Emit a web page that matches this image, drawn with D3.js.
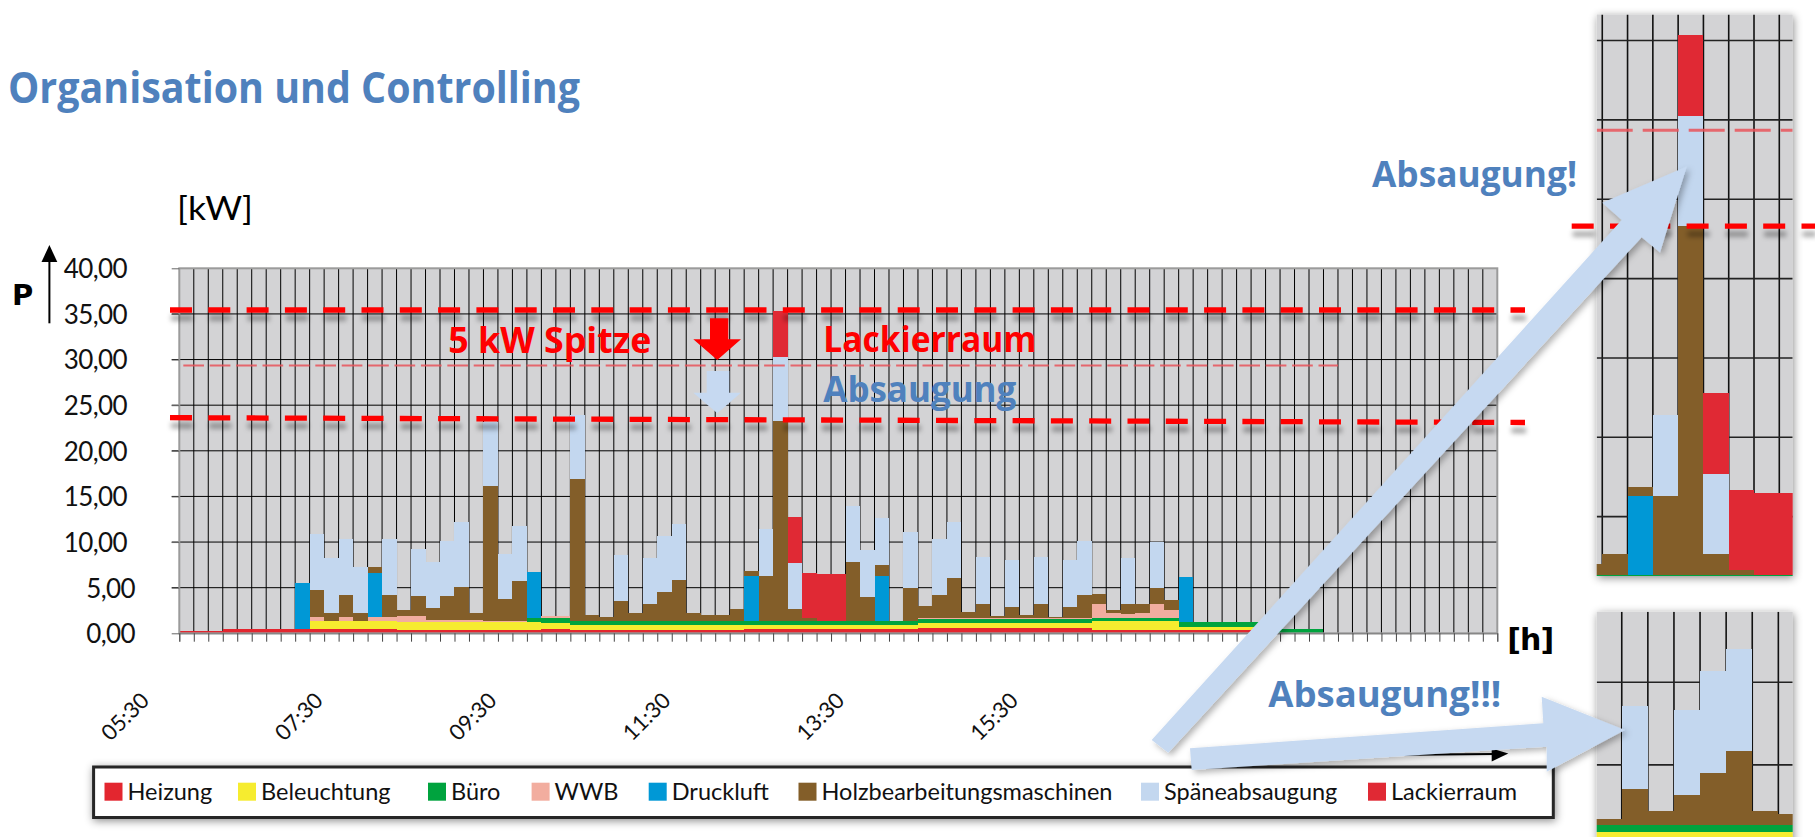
<!DOCTYPE html>
<html>
<head>
<meta charset="utf-8">
<script src="https://cdn.jsdelivr.net/npm/d3@7"></script>
<style>
    body { margin: 0; background: #fff; }
    svg { display: block; }
</style>
</head>
<body>
<div id="chart"></div>
<script>

// 10-minute slots, 05:30 .. 20:30
const slots = [
    "05:30","05:40","05:50",
    "06:00","06:10","06:20","06:30","06:40","06:50",
    "07:00","07:10","07:20","07:30","07:40","07:50",
    "08:00","08:10","08:20","08:30","08:40","08:50",
    "09:00","09:10","09:20","09:30","09:40","09:50",
    "10:00","10:10","10:20","10:30","10:40","10:50",
    "11:00","11:10","11:20","11:30","11:40","11:50",
    "12:00","12:10","12:20","12:30","12:40","12:50",
    "13:00","13:10","13:20","13:30","13:40","13:50",
    "14:00","14:10","14:20","14:30","14:40","14:50",
    "15:00","15:10","15:20","15:30","15:40","15:50",
    "16:00","16:10","16:20","16:30","16:40","16:50",
    "17:00","17:10","17:20","17:30","17:40","17:50",
    "18:00","18:10","18:20","18:30","18:40","18:50",
    "19:00","19:10","19:20","19:30","19:40","19:50",
    "20:00","20:10","20:20","20:30"
];

// kW per slot, one array per consumer
const heizung = [
    0.3,0.3,0.3,0.5,0.5,0.5,0.5,0.5,0.45,0.45,
    0.45,0.45,0.45,0.45,0.45,0.4,0.4,0.4,0.4,0.4,
    0.4,0.4,0.4,0.4,0.4,0.44,0.44,0.37,0.37,0.37,
    0.37,0.37,0.37,0.37,0.37,0.37,0.37,0.37,0.37,0.5,
    0.5,0.5,0.5,0.5,0.5,0.5,0.5,0.5,0.5,0.5,
    0.5,0.55,0.55,0.55,0.55,0.55,0.55,0.55,0.55,0.55,
    0.55,0.55,0.55,0.4,0.4,0.4,0.4,0.4,0.4,0.35,
    0.35,0.35,0.35,0.35,0.35,0,0,0,0,0,
    0,0,0,0,0,0,0,0,0,0,
    0
];
const beleuchtung = [
    0,0,0,0,0,0,0,0,0,0.85,
    0.85,0.85,0.85,0.85,0.85,0.8,0.8,0.8,0.8,0.8,
    0.8,0.8,0.8,0.8,0.8,0.73,0.73,0.54,0.54,0.54,
    0.54,0.54,0.54,0.54,0.54,0.54,0.54,0.54,0.54,0.4,
    0.4,0.4,0.4,0.4,0.4,0.4,0.4,0.4,0.4,0.4,
    0.4,0.62,0.62,0.62,0.62,0.62,0.62,0.62,0.62,0.62,
    0.62,0.62,0.62,0.9,0.9,0.9,0.9,0.9,0.9,0.36,
    0.36,0.36,0.36,0.36,0.36,0,0,0,0,0,
    0,0,0,0,0,0,0,0,0,0,
    0
];
const buero = [
    0,0,0,0,0,0,0,0,0,0,
    0,0,0,0,0,0,0,0,0,0,
    0,0,0,0,0.5,0.47,0.47,0.44,0.44,0.44,
    0.44,0.44,0.44,0.44,0.44,0.44,0.44,0.44,0.44,0.4,
    0.4,0.4,0.4,0.4,0.4,0.4,0.4,0.4,0.4,0.4,
    0.4,0.36,0.36,0.36,0.36,0.36,0.36,0.36,0.36,0.36,
    0.36,0.36,0.36,0.35,0.35,0.35,0.35,0.35,0.35,0.5,
    0.5,0.5,0.5,0.5,0.5,0.5,0.5,0.5,0.5,0,
    0,0,0,0,0,0,0,0,0,0,
    0
];
const wwb = [
    0,0,0,0,0,0,0,0,0,0.45,
    0,0.45,0,0.45,0.45,0.75,0.75,0.25,0.25,0.25,
    0.25,0.1,0.1,0.1,0,0.3,0.3,0,0,0,
    0,0,0,0,0,0,0,0,0,0,
    0,0,0,0,0,0,0,0,0,0,
    0,0.1,0.1,0.1,0.1,0.1,0.1,0.1,0.1,0.1,
    0.1,0.1,0.1,1.55,0.6,0.5,0.6,1.6,0.9,0,
    0,0,0,0,0,0,0,0,0,0,
    0,0,0,0,0,0,0,0,0,0,
    0
];
const druckluft = [
    0,0,0,0,0,0,0,0,5.1,0,
    0,0,0,4.9,0,0,0,0,0,0,
    0,0,0,0,5.05,0,0,0,0,0,
    0,0,0,0,0,0,0,0,0,4.98,
    0,0,0,0,0,0,0,0,4.98,0,
    0,0,0,0,0,0,0,0,0,0,
    0,0,0,0,0,0,0,0,0,4.93,
    0,0,0,0,0,0,0,0,0,0,
    0,0,0,0,0,0,0,0,0,0,
    0
];
const holz = [
    0,0,0,0,0,0,0,0,0,2.96,
    0.96,2.45,0.96,0.65,2.45,0.6,2.18,1.36,2.68,3.65,
    0.74,14.88,2.43,4.44,0,0,0,15.53,0.65,0.4,
    2.19,0.84,1.85,3.14,4.49,0.84,0.65,0.65,1.28,0.59,
    4.98,22.0,1.33,0.34,0,0,6.48,2.72,1.21,0,
    3.7,1.37,2.57,4.47,0.67,1.57,0.27,1.29,0.37,1.57,
    0.15,1.29,2.53,1.15,0.35,1.1,1.0,1.7,1.05,0,
    0,0,0,0,0,0,0,0,0,0,
    0,0,0,0,0,0,0,0,0,0,
    0
];
const spaene = [
    0,0,0,0,0,0,0,0,0,6.14,
    6.03,6.14,5.04,0,6.14,0,5.07,5.04,5.97,7.06,
    0,7.02,4.97,6.02,0,0,0,7.02,0,0,
    5.04,0,5.09,6.21,6.14,0,0,0,0,0,
    5.12,6.95,5.04,0,0,0,6.17,5.11,5.11,0,
    6.07,0,6.1,6.14,0,5.13,0,5.12,0,5.13,
    0,5.12,6.0,0,0,5.0,0,5.1,0,0,
    0,0,0,0,0,0,0,0,0,0,
    0,0,0,0,0,0,0,0,0,0,
    0
];
const lack = [
    0,0,0,0,0,0,0,0,0,0,
    0,0,0,0,0,0,0,0,0,0,
    0,0,0,0,0,0,0,0,0,0,
    0,0,0,0,0,0,0,0,0,0,
    0,5.11,5.12,5.01,5.17,5.17,0,0,0,0,
    0,0,0,0,0,0,0,0,0,0,
    0,0,0,0,0,0,0,0,0,0,
    0,0,0,0,0,0,0,0,0,0,
    0,0,0,0,0,0,0,0,0,0,
    0
];

const seriesNames = ["Heizung","Beleuchtung","Büro","WWB","Druckluft","Holzbearbeitungsmaschinen","Späneabsaugung","Lackierraum"];
const seriesValues = [heizung, beleuchtung, buero, wwb, druckluft, holz, spaene, lack];
const seriesColors = ["#e3262f","#f6ec2f","#00a33e","#f2ad9f","#0098d6","#835e29","#c3d7ef","#e02934"];

const yTicks = [0,5,10,15,20,25,30,35,40];
const xTickLabels = ["05:30","07:30","09:30","11:30","13:30","15:30"];

// annotation levels in kW
const peakLevel = 35.43;
const targetLevel = [23.63, 23.1];
const midLevel = 29.35;


class PowerChart {

    constructor(parentElement) {
        this.parentElement = parentElement
        this.initVis()
    }

    initVis() {
        let vis = this

        vis.width = 1815
        vis.height = 837
        vis.plot = {left: 179.3, right: 1497.3, top: 268.3, bottom: 633.3}

        vis.svg = d3.select("#" + vis.parentElement).append("svg")
            .attr("width", vis.width)
            .attr("height", vis.height)
            .style("font-family", "Lato, 'Open Sans', sans-serif")

        let defs = vis.svg.append("defs")
        let shadow = (id, dx, dy, sd, op) => defs.append("filter").attr("id", id)
            .attr("filterUnits", "userSpaceOnUse").attr("x", 0).attr("y", 0)
            .attr("width", vis.width).attr("height", vis.height)
            .append("feDropShadow").attr("dx", dx).attr("dy", dy)
            .attr("stdDeviation", sd).attr("flood-color", "#000").attr("flood-opacity", op)
        shadow("dashShadow", 1, 8, 2.5, 0.35)
        shadow("boxShadow", 1, 2, 4, 0.45)
        shadow("arrowShadow", 3, 3, 3, 0.3)

        vis.x = d3.scaleLinear().domain([0, slots.length]).range([vis.plot.left, vis.plot.right])
        vis.y = d3.scaleLinear().domain([0, 40]).range([vis.plot.bottom, vis.plot.top])

        vis.fmt = d3.formatLocale({decimal: ",", thousands: ".", grouping: [3], currency: ["", "€"]}).format(".2f")

        vis.wrangleData()
    }

    wrangleData() {
        let vis = this

        vis.table = slots.map((s, i) => {
            let row = {slot: s, i: i}
            seriesNames.forEach((n, k) => row[n] = seriesValues[k][i])
            return row
        })
        vis.stacked = d3.stack().keys(seriesNames)(vis.table)

        vis.updateVis()
    }

    drawBars(g, x, y) {
        let vis = this
        g.selectAll(".layer").data(vis.stacked).join("g")
            .attr("class", "layer")
            .attr("fill", (d, k) => seriesColors[k])
            .selectAll("rect").data(d => d.filter(p => p[1] - p[0] > 0)).join("rect")
            .attr("x", p => x(p.data.i))
            .attr("width", p => x(p.data.i + 1) - x(p.data.i))
            .attr("y", p => y(p[1]))
            .attr("height", p => y(p[0]) - y(p[1]))
            .attr("shape-rendering", "crispEdges")
    }

    drawInset(id, x, y, box, hLines) {
        let vis = this
        let g = vis.svg.append("g")
        g.append("clipPath").attr("id", id).append("rect")
            .attr("x", box.x0).attr("y", box.y0).attr("width", box.x1 - box.x0).attr("height", box.y1 - box.y0)
        g.append("rect").attr("x", box.x0).attr("y", box.y0)
            .attr("width", box.x1 - box.x0).attr("height", box.y1 - box.y0)
            .attr("fill", "#d3d3d5").attr("filter", "url(#boxShadow)")
        let inner = g.append("g").attr("clip-path", "url(#" + id + ")")
        let d0 = Math.ceil(x.domain()[0]), d1 = Math.floor(x.domain()[1])
        inner.selectAll(".vg").data(d3.range(d0, d1 + 1)).join("line")
            .attr("x1", d => x(d)).attr("x2", d => x(d))
            .attr("y1", box.y0).attr("y2", box.y1)
            .attr("stroke", "#111").attr("stroke-width", 1.6)
        inner.selectAll(".hg").data(hLines).join("line")
            .attr("x1", box.x0).attr("x2", box.x1)
            .attr("y1", d => y(d)).attr("y2", d => y(d))
            .attr("stroke", "#222").attr("stroke-width", 1.6)
        vis.drawBars(inner.append("g"), x, y)
        return inner
    }

    updateVis() {
        let vis = this
        let p = vis.plot

        // title and axis captions
        vis.svg.append("text").text("Organisation und Controlling")
            .attr("x", 8).attr("y", 102.5)
            .attr("font-family", "'Open Sans', sans-serif").attr("font-weight", 700)
            .attr("font-size", 42.5).attr("fill", "#4f81bd")
            .attr("textLength", 572).attr("lengthAdjust", "spacingAndGlyphs")

        vis.svg.append("text").text("[kW]")
            .attr("x", 177).attr("y", 220).attr("font-size", 32)
            .attr("textLength", 76).attr("lengthAdjust", "spacingAndGlyphs")

        vis.svg.append("text").text("P")
            .attr("x", 12).attr("y", 305)
            .attr("font-family", "'DejaVu Sans', sans-serif").attr("font-weight", 700).attr("font-size", 29)

        vis.svg.append("line").attr("x1", 49.4).attr("x2", 49.4).attr("y1", 323.3).attr("y2", 258)
            .attr("stroke", "#000").attr("stroke-width", 2)
        vis.svg.append("polygon").attr("points", "41.5,262 57.3,262 49.4,245").attr("fill", "#000")

        // plot area
        let plotG = vis.svg.append("g")
        plotG.append("rect").attr("x", p.left).attr("y", p.top)
            .attr("width", p.right - p.left).attr("height", p.bottom - p.top)
            .attr("fill", "#d3d3d5")

        plotG.selectAll(".vgrid").data(d3.range(1, slots.length)).join("line")
            .attr("x1", d => vis.x(d)).attr("x2", d => vis.x(d))
            .attr("y1", p.top).attr("y2", p.bottom)
            .attr("stroke", "#000").attr("stroke-width", 1)

        plotG.selectAll(".hgrid").data(yTicks.filter(v => v > 0 && v < 40)).join("line")
            .attr("x1", p.left - 7.6).attr("x2", p.right)
            .attr("y1", d => vis.y(d)).attr("y2", d => vis.y(d))
            .attr("stroke", "#000").attr("stroke-width", 1)

        vis.drawBars(plotG.append("g"), vis.x, vis.y)

        plotG.append("rect").attr("x", p.left).attr("y", p.top)
            .attr("width", p.right - p.left).attr("height", p.bottom - p.top)
            .attr("fill", "none").attr("stroke", "#9b9b9b").attr("stroke-width", 2)

        // y axis
        let yAxis = d3.axisLeft(vis.y).tickValues(yTicks).tickSize(7.6).tickFormat(vis.fmt)
        let yG = vis.svg.append("g").attr("transform", "translate(" + p.left + ",0)").call(yAxis)
        yG.select(".domain").remove()
        yG.selectAll(".tick line").attr("stroke", "#666")
        yG.selectAll(".tick text")
            .attr("x", d => (d >= 10 ? 127 : 135) - p.left)
            .attr("dy", "0.36em")
            .attr("font-family", "Lato, sans-serif").attr("font-size", 26).attr("fill", "#111")
            .attr("letter-spacing", -0.6)

        // x axis ticks + labels
        let xAxis = d3.axisBottom(vis.x).tickValues(d3.range(0, slots.length + 1)).tickSize(8.4).tickFormat("")
        let xG = vis.svg.append("g").attr("transform", "translate(0," + p.bottom + ")").call(xAxis)
        xG.select(".domain").attr("stroke", "#7f7f7f")
        xG.selectAll(".tick line").attr("stroke", "#444")

        vis.svg.selectAll(".xlabel").data(xTickLabels).join("text")
            .attr("text-anchor", "end")
            .attr("transform", d => {
                let i = slots.indexOf(d)
                return "translate(" + (vis.x(i + 0.5) - 36) + ",702) rotate(-45)"
            })
            .attr("font-size", 22).attr("fill", "#111")
            .text(d => d)

        // peak lines
        vis.svg.append("line")
            .attr("x1", 183.3).attr("x2", 1338)
            .attr("y1", vis.y(midLevel)).attr("y2", vis.y(midLevel))
            .attr("stroke", "#e9545b").attr("stroke-width", 2.2)
            .attr("stroke-dasharray", "20.7 5.7").attr("opacity", 0.85)

        let dashes = vis.svg.append("g").attr("filter", "url(#dashShadow)")
        dashes.append("line")
            .attr("x1", 170).attr("x2", 1525)
            .attr("y1", vis.y(peakLevel)).attr("y2", vis.y(peakLevel))
        dashes.append("line")
            .attr("x1", 170).attr("x2", 1525)
            .attr("y1", vis.y(targetLevel[0])).attr("y2", vis.y(targetLevel[1]))
        dashes.selectAll("line")
            .attr("stroke", "#ff0000").attr("stroke-width", 5.3).attr("stroke-dasharray", "22 16.3")

        // annotations inside the chart
        let bold = (t, x, y, size, len, color) => vis.svg.append("text").text(t)
            .attr("x", x).attr("y", y)
            .attr("font-family", "'Open Sans', sans-serif").attr("font-weight", 700)
            .attr("font-size", size).attr("fill", color)
            .attr("textLength", len).attr("lengthAdjust", "spacingAndGlyphs")

        bold("5 kW Spitze", 448.3, 353.3, 35, 203, "#ff0000")
        bold("Lackierraum", 823.3, 352.3, 36, 213, "#ff0000")
        bold("Absaugung", 823.3, 401.7, 35, 193, "#4f81bd")

        vis.svg.append("polygon")
            .attr("points", "710,318.3 728.3,318.3 728.3,339.3 741,339.3 717.3,360 693.3,339.3 710,339.3")
            .attr("fill", "#ff0000")
        vis.svg.append("polygon")
            .attr("points", "706.7,371 729.3,371 729.3,392.7 741,392.7 717.3,413.3 693.3,392.7 706.7,392.7")
            .attr("fill", "#c6d9f1")

        // legend
        let legendX = [104.5, 238, 428, 531.6, 648.7, 798.5, 1141, 1368]
        vis.svg.append("rect").attr("x", 93.6).attr("y", 767).attr("width", 1459.7).attr("height", 50.5)
            .attr("fill", "#fff").attr("stroke", "#262626").attr("stroke-width", 3)
            .attr("filter", "url(#boxShadow)")
        let leg = vis.svg.selectAll(".leg").data(seriesNames).join("g")
            .attr("transform", (d, k) => "translate(" + legendX[k] + ",0)")
        leg.append("rect").attr("y", 782.7).attr("width", 18).attr("height", 18)
            .attr("fill", (d, k) => seriesColors[k])
        leg.append("text").attr("x", 23).attr("y", 800)
            .attr("font-size", 23.5).attr("fill", "#111").text(d => d)

        // [h] and time arrow
        vis.svg.append("text").text("[h]")
            .attr("x", 1507.3).attr("y", 650)
            .attr("font-family", "'DejaVu Sans', sans-serif").attr("font-weight", 700).attr("font-size", 30)
            .attr("textLength", 47).attr("lengthAdjust", "spacing")
        vis.svg.append("line").attr("x1", 1195).attr("y1", 756.5).attr("x2", 1495).attr("y2", 754)
            .attr("stroke", "#000").attr("stroke-width", 2)
        vis.svg.append("polygon").attr("points", "1491.7,748.5 1508.3,753.5 1491.7,761.5").attr("fill", "#000")

        // zoomed insets
        let x1 = d3.scaleLinear().domain([37.78, 45.53]).range([1596.7, 1792.7])
        let y1 = d3.scaleLinear().domain([1.26, 36.64]).range([576, 14.5])
        let in1 = vis.drawInset("clip1", x1, y1, {x0: 1596.7, x1: 1792.7, y0: 14.5, y1: 576}, [5,10,15,20,25,30,35])
        in1.append("line").attr("x1", 1596.7).attr("x2", 1792.7)
            .attr("y1", y1(midLevel)).attr("y2", y1(midLevel))
            .attr("stroke", "#e9545b").attr("stroke-width", 3)
            .attr("stroke-dasharray", "36 10").attr("opacity", 0.85)

        let x2 = d3.scaleLinear().domain([29.04, 36.55]).range([1596.7, 1792.7])
        let y2 = d3.scaleLinear().domain([0, 14.27]).range([847.5, 611.6])
        vis.drawInset("clip2", x2, y2, {x0: 1596.7, x1: 1792.7, y0: 611.7, y1: 850}, [5,10])

        vis.svg.append("line")
            .attr("x1", 1571.7).attr("x2", 1815)
            .attr("y1", y1(23.3)).attr("y2", y1(23.3))
            .attr("stroke", "#ff0000").attr("stroke-width", 5.3).attr("stroke-dasharray", "22 16.3")
            .attr("filter", "url(#dashShadow)")

        // callouts
        bold("Absaugung!", 1372, 187, 36, 205, "#4f81bd")
        bold("Absaugung!!!", 1268.3, 706.7, 35, 233, "#4f81bd")

        let arrows = vis.svg.append("g").attr("filter", "url(#arrowShadow)").attr("fill", "#c6d9f1")
        arrows.append("polygon")
            .attr("points", "1151.7,740 1621.7,220 1602.3,202.8 1686.7,166.5 1660,252.6 1641.7,237.3 1168.3,752.7")
        arrows.append("polygon")
            .attr("points", "1190,748.3 1543.3,723.3 1541.7,696.7 1625,730 1546.7,771.7 1546.7,746.7 1191.7,770")
    }
}

new PowerChart("chart")
</script>
</body>
</html>
